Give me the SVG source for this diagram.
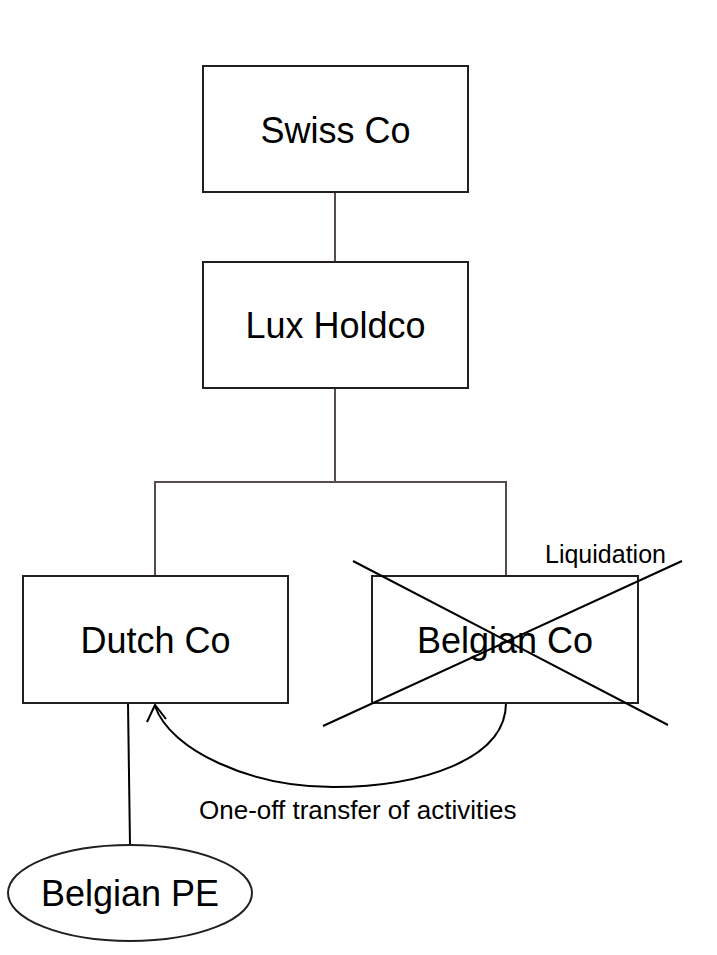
<svg xmlns="http://www.w3.org/2000/svg" width="717" height="955" viewBox="0 0 717 955">
<style>
.box{fill:#fff;stroke:#231f20;stroke-width:2}
.conn{fill:none;stroke:#574b4c;stroke-width:2}
.blk{fill:none;stroke:#000;stroke-width:2}
.lbl{font-family:"Liberation Sans",Arial,sans-serif;font-size:36px;fill:#000;text-anchor:middle}
.sm{font-family:"Liberation Sans",Arial,sans-serif;fill:#000}
</style>
<rect width="717" height="955" fill="#fff"/>
<g id="connectors">
<line class="conn" x1="335" y1="192" x2="335" y2="262"/>
<polyline class="conn" points="335,388 335,482 155,482 155,576"/>
<polyline class="conn" points="335,482 506,482 506,576"/>
<line class="blk" x1="128" y1="703" x2="130" y2="845"/>
<path class="blk" d="M506 703 C506 760 420 787 333 787 C250 787 170 750 155 706"/>
<polyline class="blk" points="147,722 155,705 166,719"/>
</g>
<g id="swiss-co">
<rect class="box" x="203" y="66" width="265" height="126"/>
<text class="lbl" x="335.5" y="143">Swiss Co</text>
</g>
<g id="lux-holdco">
<rect class="box" x="203" y="262" width="265" height="126"/>
<text class="lbl" x="335.5" y="338">Lux Holdco</text>
</g>
<g id="dutch-co">
<rect class="box" x="23" y="576" width="265" height="127"/>
<text class="lbl" x="155.5" y="653">Dutch Co</text>
</g>
<g id="belgian-co">
<rect class="box" x="372" y="576" width="266" height="127"/>
<text class="lbl" x="505" y="653">Belgian Co</text>
<line class="blk" x1="353" y1="561" x2="668" y2="725"/>
<line class="blk" x1="323" y1="726" x2="682" y2="561"/>
<text class="sm" x="545" y="563" font-size="25">Liquidation</text>
</g>
<g id="belgian-pe">
<ellipse class="box" cx="130" cy="893" rx="122" ry="48"/>
<text class="lbl" x="130" y="906">Belgian PE</text>
</g>
<g id="transfer-label">
<text class="sm" x="199" y="819" font-size="26">One-off transfer of activities</text>
</g>
</svg>
